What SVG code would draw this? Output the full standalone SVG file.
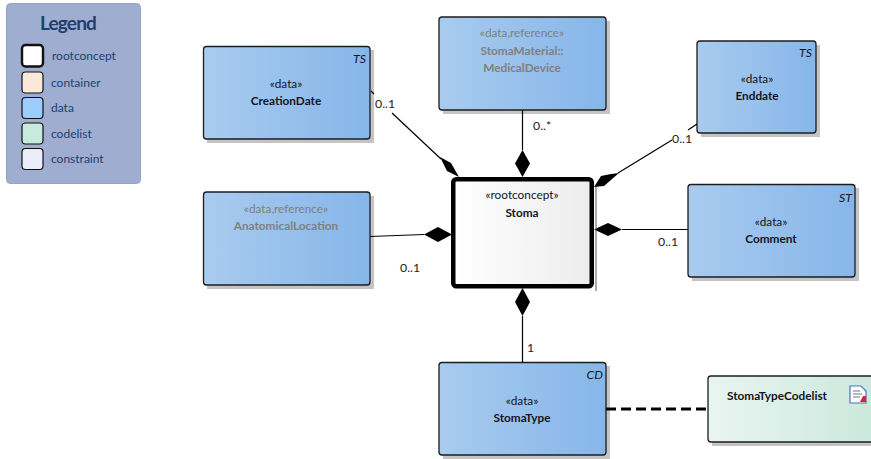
<svg xmlns="http://www.w3.org/2000/svg" width="871" height="459" viewBox="0 0 871 459">
<style>
text{font-family:Lato,"Open Sans","Liberation Sans",sans-serif;font-size:11.800px;text-anchor:middle;fill:#14141f}
.b{font-weight:700}
.g{fill:#808080}
.ml{fill:#222;text-anchor:start;font-size:12.300px}
.t{font-style:italic;text-anchor:end;font-size:12.300px}
.lg{fill:#1f4070;text-anchor:start;font-size:12px}
.box{stroke:#1c1c1c;stroke-width:1.300;fill:url(#blue)}
.sh{fill:#c4c4c4}
.sw{stroke:#111;stroke-width:1.200}
.c{stroke:#000;stroke-width:1.200;fill:none}
.d{fill:#000}
</style>
<defs>
<linearGradient id="blue" x1="0" x2="1" y1="0" y2="0"><stop offset="0" stop-color="#a9cbef"/><stop offset="1" stop-color="#86b6e9"/></linearGradient>
<linearGradient id="white" x1="0" x2="1" y1="0" y2="0"><stop offset="0" stop-color="#fff"/><stop offset="1" stop-color="#ececec"/></linearGradient>
<linearGradient id="green" x1="0" x2="1" y1="0" y2="0"><stop offset="0" stop-color="#e9f4f0"/><stop offset="1" stop-color="#c9e8dc"/></linearGradient>
</defs>
<g id="legend">
<rect x="6.500" y="3.500" width="134" height="180" rx="4" fill="#9eadd0" stroke="#93a3c8"/>
<text x="68" y="30" style="font-size:19px;font-weight:700;fill:#1f3f6e;letter-spacing:-.8px">Legend</text>
<rect class="sw" x="22" y="45" width="21" height="21.500" rx="3.500" fill="#fff" style="stroke-width:2.400"/>
<rect class="sw" x="22" y="72" width="21" height="21" rx="3.500" fill="#fbe8d8"/>
<rect class="sw" x="22" y="97.500" width="21" height="21" rx="3.500" fill="#9cccfb"/>
<rect class="sw" x="22" y="123" width="21" height="21" rx="3.500" fill="#c8eadd"/>
<rect class="sw" x="22" y="148.500" width="21" height="21" rx="3.500" fill="#ebedfb"/>
<text class="lg" x="52" y="60">rootconcept</text>
<text class="lg" x="51" y="87">container</text>
<text class="lg" x="51" y="112">data</text>
<text class="lg" x="51" y="138">codelist</text>
<text class="lg" x="51" y="163">constraint</text>
</g>
<g id="node-creationdate">
<rect class="sh" x="207" y="50" width="167" height="93"/>
<rect class="box" x="203.500" y="46.500" width="166.500" height="92.500" rx="3"/>
<text class="t" x="366" y="63">TS</text>
<text x="286" y="88">«data»</text>
<text class="b" x="286" y="105">CreationDate</text>
</g>
<g id="node-stomamaterial">
<rect class="sh" x="443" y="21" width="167" height="93"/>
<rect class="box" x="439" y="17" width="167" height="93" rx="3"/>
<text class="g" x="522" y="37">«data,reference»</text>
<text class="g b" x="522" y="55">StomaMaterial::</text>
<text class="g b" x="522" y="72">MedicalDevice</text>
</g>
<g id="node-enddate">
<rect class="sh" x="701" y="45" width="119" height="92"/>
<rect class="box" x="697" y="41" width="119" height="92" rx="3"/>
<text class="t" x="812" y="57">TS</text>
<text x="757" y="83">«data»</text>
<text class="b" x="757" y="100">Enddate</text>
</g>
<g id="node-comment">
<rect class="sh" x="692" y="188" width="167" height="93"/>
<rect class="box" x="688" y="184.500" width="167" height="92.500" rx="3"/>
<text class="t" x="852" y="202">ST</text>
<text x="771" y="226">«data»</text>
<text class="b" x="771" y="243">Comment</text>
</g>
<g id="node-anatomicallocation">
<rect class="sh" x="207" y="196" width="167" height="93"/>
<rect class="box" x="203.500" y="192" width="166.500" height="93" rx="3"/>
<text class="g" x="286" y="213">«data,reference»</text>
<text class="g b" x="286" y="230">AnatomicalLocation</text>
</g>
<g id="node-stoma">
<rect x="453.250" y="179.250" width="138.500" height="107" rx="3" fill="url(#white)" stroke="#000" stroke-width="4.500"/>
<text x="522" y="199">«rootconcept»</text>
<text class="b" x="522" y="217">Stoma</text>
</g>
<g id="node-stomatype">
<rect class="sh" x="443" y="366" width="167" height="93"/>
<rect class="box" x="439" y="362.500" width="167" height="92.500" rx="3"/>
<text class="t" x="603" y="379">CD</text>
<text x="522" y="405">«data»</text>
<text class="b" x="522" y="422">StomaType</text>
</g>
<g id="node-stomatypecodelist">
<rect class="sh" x="712" y="380" width="170" height="66"/>
<rect x="708" y="376" width="175" height="66" rx="3" fill="url(#green)" stroke="#1c1c1c" stroke-width="1.300"/>
<text class="b" x="777" y="400">StomaTypeCodelist</text>
<path d="M850 386H861L866 391V403H850Z" fill="#fff" stroke="#4a72c4" stroke-width="1.200"/>
<path d="M853 391H860M853 394H862M853 397H860" stroke="#777" stroke-width="1" fill="none"/>
<path d="M860 402L863 396L866 396V402Z" fill="#e8202a"/>
</g>
<g id="connectors">
<path class="c" d="M371 91L374 94M392 113L441 159"/>
<path class="d" d="M440 157L451 163L459 177L447 171Z"/>
<path class="c" d="M522.500 110V150"/>
<path class="d" d="M522.500 150L530 163.500L522.500 177L515 163.500Z"/>
<path class="c" d="M697 124L688 130M672 140L618 173"/>
<path class="d" d="M619 173L604 186L594 187L601 176L611 174Z"/>
<path class="c" d="M688 229.500H622"/>
<path class="d" d="M622 229.500L608 236L594 229.500L608 223Z"/>
<path class="c" d="M370 236.500L424 234.500"/>
<path class="d" d="M424 234.500L438 227L452 234.500L438 242Z"/>
<path class="c" d="M522.500 362V316"/>
<path class="d" d="M522.500 288L530 302L522.500 316L515 302Z"/>
<path d="M606 409H708" stroke="#000" stroke-width="2.800" stroke-dasharray="10 5" fill="none"/>
<path d="M596 187V291" stroke="#555" stroke-width="1" fill="none"/>
<text class="ml" x="375" y="108">0..1</text>
<text class="ml" x="533" y="130">0..*</text>
<text class="ml" x="672" y="143">0..1</text>
<text class="ml" x="658" y="246">0..1</text>
<text class="ml" x="400" y="272">0..1</text>
<text class="ml" x="527" y="352">1</text>
</g>
</svg>
